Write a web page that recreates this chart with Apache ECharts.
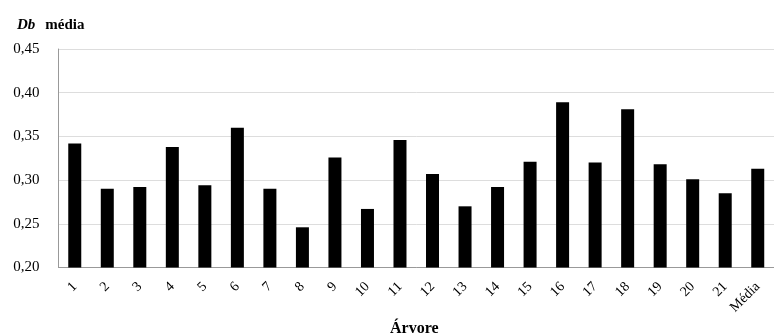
<!DOCTYPE html>
<html><head><meta charset="utf-8">
<script src="https://cdn.jsdelivr.net/npm/echarts@6/dist/echarts.min.js"></script>
<style>html,body{margin:0;padding:0;background:#fff}#c{width:774px;height:333px}</style>
</head><body><div id="c"></div>
<script>
const categories = ['1','2','3','4','5','6','7','8','9','10','11','12','13','14','15','16','17','18','19','20','21','Média'];
const values = [0.342,0.290,0.292,0.338,0.294,0.360,0.290,0.246,0.326,0.267,0.346,0.307,0.270,0.292,0.321,0.389,0.320,0.381,0.318,0.301,0.285,0.313];
const yTicks = {min:0.20, max:0.45, interval:0.05};

const serif = '"Liberation Serif", "Times New Roman", serif';
const chart = echarts.init(document.getElementById('c'), null, {renderer:'canvas'});
chart.setOption({
  animation:false,
  backgroundColor:'#fff',
  title:[{
    text:'{i|Db}  {b|média}',
    left:12, top:11,
    textStyle:{rich:{
      i:{fontFamily:serif,fontStyle:'italic',fontWeight:'bold',fontSize:15,color:'#000'},
      b:{fontFamily:serif,fontWeight:'bold',fontSize:15,color:'#000'}
    }}
  },{
    text:'Árvore', left:385, top:316,
    textStyle:{fontFamily:serif,fontWeight:'bold',fontSize:16,color:'#000'}
  }],
  grid:{left:58.5, top:49, width:725, height:218.5, containLabel:false},
  xAxis:{
    type:'category', data:categories,
    axisLine:{lineStyle:{color:'#999',width:1}},
    axisTick:{show:false},
    axisLabel:{rotate:45, fontFamily:serif, fontSize:14, color:'#000', margin:17, interval:0}
  },
  yAxis:{
    type:'value', min:yTicks.min, max:yTicks.max, interval:yTicks.interval,
    axisLine:{show:true, lineStyle:{color:'#999'}},
    axisTick:{show:false},
    splitLine:{lineStyle:{color:'#ddd',width:1}},
    axisLabel:{fontFamily:serif, fontSize:15, color:'#000', margin:19,
      formatter:v=>v.toFixed(2).replace('.',',')}
  },
  series:[{type:'bar', data:values, barWidth:13, itemStyle:{color:'#000'}}]
});
</script></body></html>
